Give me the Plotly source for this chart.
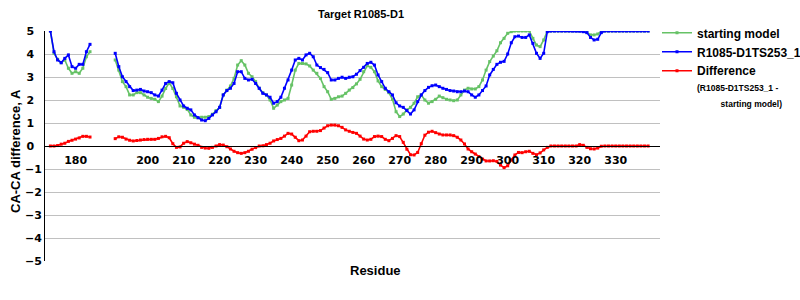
import plotly.graph_objects as go

# Residue numbers (185-190 missing -> gap)
residues = list(range(173, 340))

starting_model = [
    5.0, 4.03, 3.77, 3.62, 3.74, 3.38, 3.16, 3.23, 3.16, 3.38, 3.88, 4.1,
    None, None, None, None, None, None,
    3.74, 3.3, 2.8, 2.58, 2.22, 2.22, 2.32, 2.32, 2.22, 2.12,
    2.07, 2.03, 1.93, 2.17, 2.5, 2.75, 2.5, 2.14, 1.74, 1.68,
    1.59, 1.35, 1.25, 1.23, 1.25, 1.25, 1.28, 1.38, 1.54, 1.68,
    2.22, 2.43, 2.61, 2.94, 3.52, 3.71, 3.52, 3.16, 3.01, 2.8,
    2.51, 2.32, 2.22, 2.0, 1.64, 1.78, 1.93, 2.0, 2.07, 2.65,
    3.3, 3.59, 3.59, 3.57, 3.48, 3.3, 3.16, 2.94, 2.58, 2.36,
    2.03, 2.07, 2.14, 2.17, 2.29, 2.43, 2.54, 2.7, 2.9, 3.23,
    3.49, 3.42, 3.23, 2.83, 2.58, 2.46, 2.32, 2.03, 1.49, 1.28,
    1.39, 1.57, 1.68, 1.86, 2.14, 2.22, 2.0, 1.86, 1.93, 2.03,
    2.17, 2.1, 2.03, 2.0, 1.97, 2.0, 2.22, 2.43, 2.51, 2.48,
    2.48, 2.58, 2.87, 3.3, 3.67, 3.91, 4.14, 4.49, 4.68, 4.9,
    4.97, 5.0, 5.0, 5.0, 5.0, 5.0, 4.68, 4.39, 4.32, 4.61,
    5.0, 5.0, 5.0, 5.0, 5.0, 5.0, 5.0, 5.0, 5.0, 5.0,
    5.0, 4.93, 4.83, 4.83, 4.87, 4.97, 5.0, 5.0, 5.0, 5.0,
    5.0, 5.0, 5.0, 5.0, 5.0, 5.0, 5.0, 5.0, 5.0,
]

model_253_1 = [
    5.0, 4.1, 3.74, 3.62, 3.81, 3.96, 3.45, 3.38, 3.55, 3.55, 4.1, 4.42,
    None, None, None, None, None, None,
    4.03, 3.45, 3.01, 2.8, 2.58, 2.41, 2.43, 2.46, 2.39, 2.36,
    2.32, 2.22, 2.17, 2.43, 2.72, 2.8, 2.75, 2.29, 2.0, 1.74,
    1.64, 1.57, 1.35, 1.23, 1.13, 1.1, 1.2, 1.35, 1.49, 1.68,
    2.22, 2.41, 2.51, 2.72, 3.23, 3.23, 2.94, 2.87, 2.9, 2.72,
    2.51, 2.29, 2.22, 2.12, 1.86, 1.93, 2.12, 2.51, 2.87, 3.3,
    3.74, 3.81, 3.74, 3.96, 4.03, 3.88, 3.52, 3.41, 3.33, 3.19,
    2.87, 2.87, 2.94, 2.99, 2.94, 2.99, 3.01, 3.12, 3.28, 3.42,
    3.59, 3.64, 3.52, 3.09, 2.8, 2.51, 2.36, 2.22, 1.88, 1.74,
    1.68, 1.54, 1.39, 1.57, 1.93, 2.22, 2.41, 2.55, 2.62, 2.65,
    2.58, 2.51, 2.46, 2.41, 2.39, 2.36, 2.36, 2.39, 2.36, 2.22,
    2.12, 2.22, 2.41, 2.61, 3.09, 3.33, 3.55, 3.64, 3.68, 4.0,
    4.49, 4.75, 4.78, 4.72, 4.72, 4.83, 4.46, 4.03, 3.81, 4.03,
    4.97, 5.0, 5.0, 5.0, 5.0, 5.0, 5.0, 5.0, 5.0, 5.0,
    4.97, 4.93, 4.72, 4.61, 4.64, 4.93, 5.0, 5.0, 5.0, 5.0,
    5.0, 5.0, 5.0, 5.0, 5.0, 5.0, 5.0, 5.0, 5.0,
]

difference = [
    0.0, 0.0, 0.02, 0.08, 0.12, 0.2, 0.25, 0.3, 0.35, 0.42, 0.42, 0.39,
    None, None, None, None, None, None,
    0.32, 0.4, 0.38, 0.3, 0.25, 0.22, 0.24, 0.26, 0.28, 0.29,
    0.29, 0.29, 0.33, 0.4, 0.42, 0.36, 0.1, -0.06, -0.04, 0.12,
    0.19, 0.14, 0.08, 0.03, -0.06, -0.09, -0.1, -0.06, 0.0, 0.06,
    0.04, -0.03, -0.13, -0.23, -0.29, -0.32, -0.29, -0.23, -0.14, -0.07,
    0.0, 0.01, 0.06, 0.12, 0.22, 0.28, 0.33, 0.43, 0.55, 0.52,
    0.38, 0.23, 0.26, 0.43, 0.62, 0.64, 0.64, 0.67, 0.78, 0.88,
    0.91, 0.91, 0.88, 0.81, 0.7, 0.64, 0.59, 0.55, 0.43, 0.3,
    0.26, 0.29, 0.41, 0.43, 0.41, 0.29, 0.23, 0.33, 0.45, 0.41,
    0.16, -0.14, -0.38, -0.39, -0.28, 0.1, 0.47, 0.6, 0.64, 0.58,
    0.52, 0.48, 0.48, 0.48, 0.45, 0.38, 0.26, 0.09, -0.13, -0.25,
    -0.35, -0.46, -0.57, -0.65, -0.65, -0.64, -0.67, -0.83, -0.94, -0.86,
    -0.61, -0.39, -0.28, -0.29, -0.25, -0.23, -0.32, -0.38, -0.3, -0.17,
    -0.06, 0.0, 0.0, 0.0, 0.0, 0.0, 0.0, 0.0, 0.0, 0.06,
    0.03, -0.06, -0.12, -0.13, -0.09, -0.01, 0.0, 0.0, 0.0, 0.0,
    0.0, 0.0, 0.0, 0.0, 0.0, 0.0, 0.0, 0.0, 0.0,
]

x_tickvals = [180, 200, 210, 220, 230, 240, 250, 260, 270, 280, 290, 300, 310, 320, 330]
y_tickvals = [5, 4, 3, 2, 1, 0, -1, -2, -3, -4, -5]
# labels left-aligned as in the reference: pad non-negative labels with a figure space
y_ticktext = [("\u2212%d" % -v) if v < 0 else ("%d\u2007" % v) for v in y_tickvals]

assert len(starting_model) == len(residues)
assert len(model_253_1) == len(residues)
assert len(difference) == len(residues)

NB = "\u00a0"
series = [
    ("starting model", starting_model, "#66c266"),
    ("R1085-D1TS253_1", model_253_1, "#0000ff"),
    ("Difference<br><span style='font-size:8.5px'>(R1085-D1TS253_1 -<br>"
     + NB * 10 + "starting model)</span>", difference, "#ff0000"),
]

fig = go.Figure()
for name, vals, col in series:
    fig.add_trace(go.Scatter(
        x=residues, y=vals, name=name, mode="lines+markers",
        connectgaps=False,
        line=dict(color=col, width=1.6),
        marker=dict(color=col, size=3, symbol="square"),
    ))

bold_ax = dict(family="DejaVu Sans", size=11, color="black", weight="bold")
arial_b = dict(family="Liberation Sans, Arial", color="black", weight="bold")

fig.update_layout(
    width=800, height=300,
    margin=dict(l=45, r=140, t=31, b=39, autoexpand=False),
    paper_bgcolor="white", plot_bgcolor="white",
    title=dict(text="Target R1085-D1", x=361 / 800, xref="container", xanchor="center",
               y=1 - 14 / 300, yref="container", yanchor="middle",
               font=dict(size=11, **arial_b)),
    xaxis=dict(range=[171.5, 342.3], tickvals=x_tickvals, showgrid=False,
               zeroline=False, anchor="free", position=0.5,
               showline=True, linecolor="black", linewidth=1,
               ticks="outside", ticklen=4, tickcolor="rgba(0,0,0,0)",
               tickfont=bold_ax),
    yaxis=dict(range=[-5, 5], tickvals=y_tickvals, ticktext=y_ticktext,
               showgrid=True, gridcolor="#c0c0c0", gridwidth=1,
               zeroline=True, zerolinecolor="black", zerolinewidth=1,
               showline=True, linecolor="black", linewidth=1,
               ticks="", tickfont=bold_ax),
    legend=dict(x=657 / 800, y=1 - 18.4 / 300, xref="container", yref="container",
                xanchor="left", yanchor="top", valign="top",
                font=dict(size=12, **arial_b), bgcolor="rgba(0,0,0,0)",
                itemwidth=30, tracegroupgap=0),
    showlegend=True,
    annotations=[
        dict(text="CA-CA difference, A", textangle=-90, x=(15 - 45) / 615, y=(261 - 151) / 230,
             xref="paper", yref="paper", xanchor="center", yanchor="middle",
             showarrow=False, font=dict(size=13, **arial_b)),
        dict(text="Residue", x=(375 - 45) / 615, y=(261 - 270) / 230,
             xref="paper", yref="paper", xanchor="center", yanchor="middle",
             showarrow=False, font=dict(size=13, **arial_b)),
    ],
)

fig.write_html("out.html")
